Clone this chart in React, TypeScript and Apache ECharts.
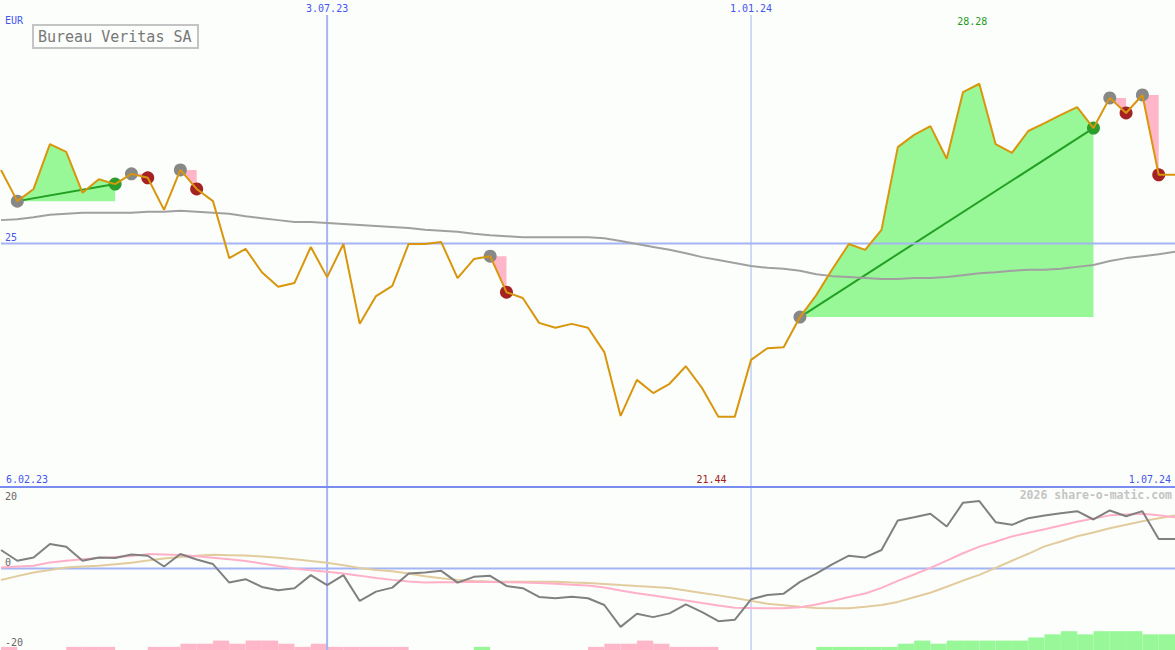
import React, { useEffect, useRef } from "react";
import * as echarts from "echarts";

// ---------- data ----------
const dates = [
  "13.02.23", "20.02.23", "27.02.23", "6.03.23", "13.03.23", "20.03.23", "27.03.23",
  "3.04.23", "10.04.23", "17.04.23", "24.04.23", "1.05.23", "8.05.23", "15.05.23",
  "22.05.23", "29.05.23", "5.06.23", "12.06.23", "19.06.23", "26.06.23", "3.07.23",
  "10.07.23", "17.07.23", "24.07.23", "31.07.23", "7.08.23", "14.08.23", "21.08.23",
  "28.08.23", "4.09.23", "11.09.23", "18.09.23", "25.09.23", "2.10.23", "9.10.23",
  "16.10.23", "23.10.23", "30.10.23", "6.11.23", "13.11.23", "20.11.23", "27.11.23",
  "4.12.23", "11.12.23", "18.12.23", "25.12.23", "1.01.24", "8.01.24", "15.01.24",
  "22.01.24", "29.01.24", "5.02.24", "12.02.24", "19.02.24", "26.02.24", "4.03.24",
  "11.03.24", "18.03.24", "25.03.24", "1.04.24", "8.04.24", "15.04.24", "22.04.24",
  "29.04.24", "6.05.24", "13.05.24", "20.05.24", "27.05.24", "3.06.24", "10.06.24",
  "17.06.24", "24.06.24", "1.07.24",
];

const price = [
  26.51, 25.87, 26.12, 27.04, 26.88, 26.04, 26.32, 26.22, 26.43, 26.35,
  25.69, 26.51, 26.12, 25.87, 24.70, 24.89, 24.41, 24.11, 24.19, 24.93,
  24.31, 24.99, 23.35, 23.92, 24.13, 24.99, 24.99, 25.03, 24.29, 24.68,
  24.74, 24.00, 23.88, 23.37, 23.27, 23.35, 23.27, 22.77, 21.46, 22.20,
  21.93, 22.12, 22.48, 22.03, 21.44, 21.44, 22.61, 22.85, 22.87, 23.49,
  23.94, 24.48, 24.99, 24.87, 25.28, 26.98, 27.23, 27.41, 26.74, 28.11,
  28.28, 27.04, 26.86, 27.31, 27.47, 27.64, 27.80, 27.37, 27.99, 27.68,
  28.05, 26.41, 26.41,
];

const movingAvg = [
  25.48, 25.50, 25.54, 25.59, 25.61, 25.63, 25.63, 25.63, 25.63, 25.65,
  25.65, 25.67, 25.65, 25.63, 25.61, 25.56, 25.52, 25.48, 25.44, 25.44,
  25.42, 25.40, 25.38, 25.36, 25.34, 25.32, 25.28, 25.26, 25.24, 25.20,
  25.17, 25.15, 25.13, 25.13, 25.13, 25.13, 25.13, 25.11, 25.05, 24.99,
  24.93, 24.87, 24.80, 24.72, 24.66, 24.60, 24.54, 24.50, 24.48, 24.44,
  24.37, 24.33, 24.31, 24.29, 24.27, 24.27, 24.29, 24.29, 24.31, 24.35,
  24.39, 24.41, 24.44, 24.46, 24.46, 24.48, 24.52, 24.56, 24.64, 24.70,
  24.74, 24.78, 24.83,
];

const momentum = [
  5.11, 2.14, 3.06, 6.78, 6.03, 2.14, 3.06, 2.89, 3.89, 3.53,
  0.56, 4.0, 2.5, 1.22, -3.89, -2.94, -5.08, -6.0, -5.44, -1.83,
  -4.61, -1.83, -8.97, -6.39, -5.28, -1.39, -1.11, -0.64, -3.89, -2.31,
  -2.03, -4.81, -5.44, -7.86, -8.22, -7.78, -8.22, -10.08, -16.11, -12.5,
  -13.42, -12.39, -9.89, -12.03, -14.53, -14.17, -8.5, -7.31, -6.94, -3.69,
  -1.39, 1.22, 3.53, 3.06, 5.11, 13.25, 14.17, 15.11, 11.58, 18.17,
  18.61, 12.78, 12.06, 13.89, 14.64, 15.28, 15.83, 13.53, 16.03, 14.44,
  15.83, 8.17, 8.17,
];

const signalLine = [
  0.28, 0.53, 0.75, 1.67, 2.14, 2.58, 2.89, 3.19, 3.47, 3.97,
  3.86, 3.75, 3.39, 2.97, 2.56, 2.08, 1.39, 0.67, 0.0, -0.47,
  -0.92, -1.36, -1.97, -2.64, -3.14, -3.58, -3.86, -3.81, -3.78, -3.69,
  -3.72, -3.78, -3.86, -3.97, -4.22, -4.47, -4.72, -5.22, -6.06, -6.83,
  -7.47, -8.14, -8.86, -9.53, -10.19, -10.83, -10.92, -10.97, -11.0, -10.72,
  -9.92, -8.97, -7.86, -6.89, -5.36, -3.42, -1.67, 0.19, 2.19, 4.22,
  6.03, 7.39, 8.86, 9.86, 10.83, 11.86, 12.89, 13.81, 14.67, 14.92,
  15.11, 14.69, 14.17,
];

const slowLine = [
  -3.17, -2.11, -1.11, -0.42, 0.25, 0.53, 0.75, 1.17, 1.61, 2.19,
  2.78, 3.17, 3.53, 3.78, 3.67, 3.56, 3.31, 2.97, 2.56, 2.06,
  1.58, 0.92, 0.17, -0.39, -0.78, -1.39, -2.14, -2.72, -3.14, -3.47,
  -3.61, -3.69, -3.67, -3.64, -3.67, -3.86, -4.03, -4.25, -4.56, -4.86,
  -5.08, -5.36, -6.08, -6.75, -7.42, -8.14, -8.94, -9.72, -10.14, -10.58,
  -10.92, -11.0, -11.0, -10.58, -10.06, -9.22, -7.94, -6.69, -5.03, -3.33,
  -1.75, 0.19, 2.14, 4.06, 6.11, 7.47, 8.92, 9.92, 11.11, 12.08,
  13.06, 13.86, 14.64,
];

// one value per week interval (between consecutive dates)
const histogram = [
  -1, 0, 0, 0, -1, -1, -1, 0, 0, -1,
  -1, -2, -2, -3, -2, -3, -3, -2, -1, -2,
  -1, -1, -1, -1, -1, 0, 0, 0, 0, 1,
  0, 0, 0, 0, 0, 0, -1, -2, -2, -3,
  -2, -1, -1, -1, 0, 0, 0, 0, 0, 0,
  1, 1, 1, 1, 1, 2, 3, 2, 3, 3,
  3, 3, 3, 4, 5, 6, 5, 6, 6, 6,
  5, 5,
];

const tradeEntries = [1, 8, 11, 30, 49, 68, 70];
const tradeExits = [7, 9, 12, 31, 67, 69, 71];

const priceTicks = [25];
const oscTicks = [20, 0, -20];
const verticalDates = ["3.07.23", "1.01.24"];
const startLabel = "6.02.23";
const title = "Bureau Veritas SA";
const currency = "EUR";
const watermark = "2026 share-o-matic.com";

// ---------- styles ----------
const C = {
  bg: "#fcfefc",
  blue: "#4455ee",
  gridLine: "#a4b4f4",
  sep: "#7b8cf0",
  price: "#d8960c",
  ma: "#a0a0a0",
  winFill: "#98f898",
  lossFill: "#ffb6c8",
  winLine: "#22a022",
  winDot: "#2a9d2a",
  lossDot: "#a52222",
  entryDot: "#888888",
  mom: "#808080",
  sig: "#ffb0c8",
  slow: "#e2cc9e",
  label: "#666666",
};
const FONT = "DejaVu Sans Mono";

export default function App() {
  const ref = useRef<HTMLDivElement>(null);

  useEffect(() => {
    if (!ref.current) return;
    const chart = echarts.init(ref.current, undefined, { renderer: "svg" });

    const vIdx = verticalDates.map((d) => dates.indexOf(d));
    const isWin = (k: number) => price[tradeExits[k]] > price[tradeEntries[k]];
    const trades = tradeEntries.map((e, k) => [e, tradeExits[k], isWin(k) ? 1 : 0]);

    const P_MIN = 20, P_MAX = 30, O_MIN = -22.5, O_MAX = 22.5, B_MAX = 52;

    const lineBase = {
      type: "line" as const,
      symbol: "none",
      silent: true,
    };

    const series: any[] = [
      // main panel reference lines
      {
        ...lineBase,
        xAxisIndex: 0, yAxisIndex: 0,
        data: dates.map(() => priceTicks[0]),
        lineStyle: { color: C.gridLine, width: 2 },
      },
      ...vIdx.map((ix, n) => ({
        ...lineBase,
        xAxisIndex: 0, yAxisIndex: 0,
        data: [[ix, 29.69], [ix, P_MIN]],
        lineStyle: { color: C.gridLine, width: n === 0 ? 2 : 1 },
      })),
      // trade areas
      {
        type: "custom",
        xAxisIndex: 0, yAxisIndex: 0,
        silent: true,
        data: trades,
        renderItem: (_p: any, api: any) => {
          const e = api.value(0);
          const x = api.value(1);
          const win = api.value(2) === 1;
          const pts: number[][] = [];
          for (let i = e; i <= x; i++) pts.push(api.coord([i, price[i]]));
          pts.push(api.coord([x, price[e]]));
          pts.push(api.coord([e, price[e]]));
          return {
            type: "polygon",
            shape: { points: pts },
            style: { fill: win ? C.winFill : C.lossFill },
          };
        },
      },
      // moving average
      {
        ...lineBase,
        xAxisIndex: 0, yAxisIndex: 0,
        data: movingAvg,
        lineStyle: { color: C.ma, width: 2 },
      },
      // trade lines for winners
      {
        type: "custom",
        xAxisIndex: 0, yAxisIndex: 0,
        silent: true,
        data: trades,
        renderItem: (_p: any, api: any) => {
          if (api.value(2) !== 1) return null;
          const e = api.value(0);
          const x = api.value(1);
          const a = api.coord([e, price[e]]);
          const b = api.coord([x, price[x]]);
          return {
            type: "line",
            shape: { x1: a[0], y1: a[1], x2: b[0], y2: b[1] },
            style: { stroke: C.winLine, lineWidth: 2 },
          };
        },
      },
      // entry markers
      {
        type: "scatter",
        xAxisIndex: 0, yAxisIndex: 0,
        silent: true,
        symbolSize: 13,
        itemStyle: { color: C.entryDot, opacity: 1 },
        data: tradeEntries.map((e) => [e, price[e]]),
      },
      // exit markers
      {
        type: "scatter",
        xAxisIndex: 0, yAxisIndex: 0,
        silent: true,
        symbolSize: 13,
        data: tradeExits.map((x, k) => ({
          value: [x, price[x]],
          itemStyle: { color: isWin(k) ? C.winDot : C.lossDot, opacity: 1 },
        })),
      },
      // price
      {
        ...lineBase,
        xAxisIndex: 0, yAxisIndex: 0,
        data: price,
        lineStyle: { color: C.price, width: 2 },
      },
      // histogram bars
      {
        type: "bar",
        xAxisIndex: 2, yAxisIndex: 2,
        silent: true,
        barWidth: "100%",
        barGap: "-100%",
        itemStyle: { color: C.lossFill },
        data: histogram.map((v) => (v < 0 ? -v : null)),
      },
      {
        type: "bar",
        xAxisIndex: 2, yAxisIndex: 2,
        silent: true,
        barWidth: "100%",
        barGap: "-100%",
        itemStyle: { color: C.winFill },
        data: histogram.map((v) => (v > 0 ? v : null)),
      },
      // oscillator zero line
      {
        ...lineBase,
        xAxisIndex: 1, yAxisIndex: 1,
        data: dates.map(() => 0),
        lineStyle: { color: C.gridLine, width: 2 },
      },
      ...vIdx.map((ix, n) => ({
        ...lineBase,
        xAxisIndex: 1, yAxisIndex: 1,
        data: [[ix, O_MAX], [ix, O_MIN]],
        lineStyle: { color: C.gridLine, width: n === 0 ? 2 : 1 },
      })),
      {
        ...lineBase,
        xAxisIndex: 1, yAxisIndex: 1,
        data: slowLine,
        lineStyle: { color: C.slow, width: 2 },
      },
      {
        ...lineBase,
        xAxisIndex: 1, yAxisIndex: 1,
        data: signalLine,
        lineStyle: { color: C.sig, width: 2 },
      },
      {
        ...lineBase,
        xAxisIndex: 1, yAxisIndex: 1,
        data: momentum,
        lineStyle: { color: C.mom, width: 2 },
      },
    ];

    const hiddenAxis = {
      axisLine: { show: false },
      axisTick: { show: false },
      axisLabel: { show: false },
      splitLine: { show: false },
    };

    const option: any = {
      animation: false,
      backgroundColor: C.bg,
      textStyle: { fontFamily: FONT },
      grid: [
        { left: 1, right: 0, top: 0, height: 487 },
        { left: 1, right: 0, top: 487, height: 163 },
        { left: 1, right: 0, top: 487, height: 163 },
      ],
      xAxis: [
        { type: "category", gridIndex: 0, data: dates, boundaryGap: false, ...hiddenAxis },
        { type: "category", gridIndex: 1, data: dates, boundaryGap: false, ...hiddenAxis },
        { type: "category", gridIndex: 2, data: dates.slice(1), boundaryGap: true, ...hiddenAxis },
      ],
      yAxis: [
        { type: "value", gridIndex: 0, min: P_MIN, max: P_MAX, ...hiddenAxis },
        { type: "value", gridIndex: 1, min: O_MIN, max: O_MAX, ...hiddenAxis },
        { type: "value", gridIndex: 2, min: 0, max: B_MAX, ...hiddenAxis },
      ],
      series,
    };

    chart.setOption(option);

    // texts placed via the library's scales
    const px = (i: number) => chart.convertToPixel({ gridIndex: 0 } as any, [i, P_MIN])[0];
    const pyMain = (v: number) => chart.convertToPixel({ gridIndex: 0 } as any, [0, v])[1];
    const pyOsc = (v: number) => chart.convertToPixel({ gridIndex: 1 } as any, [0, v])[1];

    let maxIdx = 0, minIdx = 0;
    price.forEach((v, i) => {
      if (v > price[maxIdx]) maxIdx = i;
      if (v < price[minIdx]) minIdx = i;
    });

    const txt = (
      text: string, x: number, y: number, fill: string,
      align = "left", va = "middle", size = 10, weight = "normal"
    ) => ({
      type: "text",
      silent: true,
      z: 100,
      style: {
        text, x, y, fill,
        align, verticalAlign: va,
        font: `${weight} ${size}px "${FONT}"`,
      },
    });

    const graphic: any[] = [
      {
        type: "line",
        silent: true,
        z: 90,
        shape: { x1: 0, y1: 487, x2: 1175, y2: 487 },
        style: { stroke: C.sep, lineWidth: 2 },
      },
      {
        type: "rect",
        silent: true,
        z: 100,
        shape: { x: 33, y: 25, width: 165, height: 23 },
        style: { fill: C.bg, stroke: "#c4c4c4", lineWidth: 2 },
      },
      txt(title, 38, 37, "#777777", "left", "middle", 15),
      txt(currency, 5, 20, C.blue),
      ...verticalDates.map((d) => txt(d, px(dates.indexOf(d)), 8, C.blue, "center")),
      txt(startLabel, 6, 479, C.blue),
      txt(dates[dates.length - 1], 1171, 479, C.blue, "right"),
      txt(price[maxIdx].toFixed(2), px(maxIdx) - 7, 21, "#229922", "center"),
      txt(price[minIdx].toFixed(2), px(minIdx) - 7, 479, "#a02020", "center"),
      ...priceTicks.map((v) => txt(String(v), 5, pyMain(v) - 1, C.blue, "left", "bottom")),
      ...oscTicks.map((v) =>
        txt(String(v), 5, v === 0 ? pyOsc(v) - 1 : pyOsc(v) + (v < 0 ? 2 : 0), C.label, "left", v === 0 ? "bottom" : "middle")
      ),
      txt(watermark, 1172, 495, "#c4c4c4", "right", "middle", 11.5, "bold"),
    ];

    chart.setOption({ graphic });

    return () => chart.dispose();
  }, []);

  return (
    <div
      ref={ref}
      style={{ position: "absolute", left: 0, top: 0, width: 1175, height: 650, background: C.bg }}
    />
  );
}
